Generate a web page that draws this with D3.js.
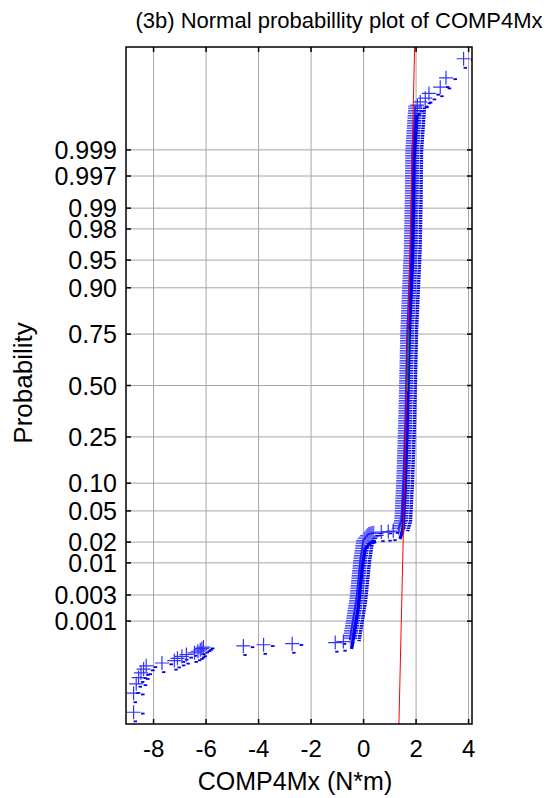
<!DOCTYPE html>
<html>
<head>
<meta charset="utf-8">
<script src="https://cdn.jsdelivr.net/npm/d3@7/dist/d3.min.js"></script>
<style>
  html, body { margin: 0; padding: 0; background: #fff; }
  svg text { font-family: "Liberation Sans", Arial, sans-serif; fill: #000; }
</style>
</head>
<body>
<svg id="chart" width="546" height="798"></svg>
<script>
// ---------------- data ----------------
const titleText = "(3b) Normal probabillity plot of COMP4Mx";
const xLabelText = "COMP4Mx (N*m)";
const yLabelText = "Probability";

const xTicks = [-8, -6, -4, -2, 0, 2, 4];
const probTicks = [0.001, 0.003, 0.01, 0.02, 0.05, 0.10, 0.25, 0.50, 0.75, 0.90, 0.95, 0.98, 0.99, 0.997, 0.999];
const probTickLabels = ["0.001", "0.003", "0.01", "0.02", "0.05", "0.10", "0.25", "0.50", "0.75", "0.90", "0.95", "0.98", "0.99", "0.997", "0.999"];

const nObs = 55000;                      // sample size (estimated from tail spacing)
// smallest order statistics (ranks 1..k), N*m
const lowTail = [-8.76, -8.76, -8.66, -8.57, -8.48, -8.38, -8.28, -7.68, -7.21, -7.09,
                 -6.92, -6.75, -6.44, -6.31, -6.22, -6.16, -6.10, -4.58, -3.81, -2.72, -1.08, -0.77];
// largest order statistics (ranks n-k+1..n), N*m
const highTail = [2.05, 2.16, 2.35, 2.49, 2.92, 3.14, 3.81];

// dense lower body: empirical quantiles (probability, value)
const lowBandProb = [0.00042, 0.00244, 0.0110, 0.02128, 0.02565, 0.02686];
const lowBandX    = [-0.526, -0.278, -0.126, -0.011, 0.179, 0.408];
// sparse jump between the two bodies (individual observations)
const linkProb = [0.02727, 0.02768, 0.0281];
const linkX    = [0.674, 0.941, 1.131];
// dense upper body: empirical quantiles (probability, value)
const upBandProb = [0.02898, 0.0388, 0.1075, 0.3253, 0.7667, 0.9623, 0.99253, 0.999, 0.99988];
const upBandX    = [1.322, 1.436, 1.512, 1.589, 1.665, 1.798, 1.836, 1.855, 1.97];

// reference line through the 1st and 3rd quartiles
const refProb = [0.25, 0.75];
const refX = [1.600, 1.691];

const xDomain = [-9.05, 4.13];
const zDomain = [-4.44, 4.44];

// ---------------- helpers ----------------
function probit(p) {
  // Acklam's inverse normal CDF
  const a = [-3.969683028665376e+01, 2.209460984245205e+02, -2.759285104469687e+02, 1.383577518672690e+02, -3.066479806614716e+01, 2.506628277459239e+00];
  const b = [-5.447609879822406e+01, 1.615858368580409e+02, -1.556989798598866e+02, 6.680131188771972e+01, -1.328068155288572e+01];
  const c = [-7.784894002430293e-03, -3.223964580411365e-01, -2.400758277161838e+00, -2.549732539343734e+00, 4.374664141464968e+00, 2.938163982698783e+00];
  const d = [7.784695709041462e-03, 3.224671290700398e-01, 2.445134137142996e+00, 3.754408661907416e+00];
  const pl = 0.02425, ph = 1 - pl;
  let q, r;
  if (p < pl) {
    q = Math.sqrt(-2 * Math.log(p));
    return (((((c[0]*q+c[1])*q+c[2])*q+c[3])*q+c[4])*q+c[5]) / ((((d[0]*q+d[1])*q+d[2])*q+d[3])*q+1);
  } else if (p <= ph) {
    q = p - 0.5; r = q*q;
    return (((((a[0]*r+a[1])*r+a[2])*r+a[3])*r+a[4])*r+a[5])*q / (((((b[0]*r+b[1])*r+b[2])*r+b[3])*r+b[4])*r+1);
  } else {
    q = Math.sqrt(-2 * Math.log(1 - p));
    return -(((((c[0]*q+c[1])*q+c[2])*q+c[3])*q+c[4])*q+c[5]) / ((((d[0]*q+d[1])*q+d[2])*q+d[3])*q+1);
  }
}

// ---------------- layout ----------------
const L = 126, R = 472, T = 47, B = 724;
const svg = d3.select("#chart");
const x = d3.scaleLinear().domain(xDomain).range([L, R]);
const z = d3.scaleLinear().domain(zDomain).range([B, T]);
const y = p => z(probit(p));

const defs = svg.append("defs");
defs.append("clipPath").attr("id", "plotClip")
  .append("rect").attr("x", L).attr("y", T).attr("width", R - L).attr("height", B - T);
function stripePattern(id, color, h) {
  const pat = defs.append("pattern").attr("id", id).attr("patternUnits", "userSpaceOnUse")
    .attr("width", 4).attr("height", 2.5);
  pat.append("rect").attr("x", 0).attr("y", 0).attr("width", 4).attr("height", h).attr("fill", color);
}
stripePattern("stripeLight", "#4646ff", 1.5);
stripePattern("stripeDark", "#0808ff", 1.5);
stripePattern("stripeDash", "#0000e6", 1.7);

// grid
const grid = svg.append("g");
grid.selectAll("line.gx").data(xTicks).join("line")
  .attr("x1", d => x(d)).attr("x2", d => x(d)).attr("y1", T).attr("y2", B)
  .attr("stroke", "#a6a6a6").attr("stroke-width", 1);
grid.selectAll("line.gy").data(probTicks).join("line")
  .attr("x1", L).attr("x2", R).attr("y1", d => y(d)).attr("y2", d => y(d))
  .attr("stroke", "#a6a6a6").attr("stroke-width", 1);

const plot = svg.append("g").attr("clip-path", "url(#plotClip)");

// ---------------- dense bodies (stacked '+' markers) ----------------
function drawBody(probs, vals) {
  const band = probs.map((p, i) => ({ p, v: vals[i] }));
  // horizontal arms (left half lighter, right half darker)
  plot.append("path").datum(band)
    .attr("d", d3.area().x0(d => x(d.v) - 7).x1(d => x(d.v)).y(d => y(d.p)))
    .attr("fill", "url(#stripeLight)");
  plot.append("path").datum(band)
    .attr("d", d3.area().x0(d => x(d.v)).x1(d => x(d.v) + 7).y(d => y(d.p)))
    .attr("fill", "url(#stripeDark)");
  // vertical arms
  plot.append("path").datum(band)
    .attr("d", d3.area().x(d => x(d.v)).y0(d => y(d.p) - 7).y1(d => y(d.p) + 7))
    .attr("fill", "#6c6cff");
  plot.append("path").datum(band)
    .attr("d", d3.line().x(d => x(d.v)).y(d => y(d.p)))
    .attr("fill", "none").attr("stroke", "#1f1fff").attr("stroke-width", 1.8);
  // marker shadow dashes (right and bottom)
  plot.append("path").datum(band)
    .attr("d", d3.line().x(d => x(d.v) + 9.2).y(d => y(d.p) + 1.2))
    .attr("fill", "none").attr("stroke", "url(#stripeDash)").attr("stroke-width", 3.5);
  plot.append("path").datum(band)
    .attr("d", d3.line().x(d => x(d.v) + 1.8).y(d => y(d.p) + 9))
    .attr("fill", "none").attr("stroke", "#0000f0").attr("stroke-width", 3.4);
}
drawBody(lowBandProb, lowBandX);
drawBody(upBandProb, upBandX);

// ---------------- sparse observations: individual '+' markers ----------------
const tailPts = lowTail.map((v, i) => ({ v, p: (i + 1 - 0.5) / nObs }))
  .concat(linkX.map((v, i) => ({ v, p: linkProb[i] })))
  .concat(highTail.map((v, i) => ({ v, p: (nObs - highTail.length + i + 1 - 0.5) / nObs })));
const mk = plot.selectAll("g.mk").data(tailPts).join("g")
  .attr("transform", d => `translate(${x(d.v)},${y(d.p)})`);
mk.append("path").attr("d", "M-7,0H7M0,-7V7")
  .attr("stroke", "#3333ff").attr("stroke-width", 1.2).attr("fill", "none");
mk.append("rect").attr("x", 7.4).attr("y", 0.4).attr("width", 3.6).attr("height", 1.8).attr("fill", "#0000e8");
mk.append("rect").attr("x", 0).attr("y", 8.2).attr("width", 3.4).attr("height", 1.8).attr("fill", "#0000e8");

// ---------------- reference line ----------------
const zq1 = probit(refProb[0]), zq3 = probit(refProb[1]);
const slope = (refX[1] - refX[0]) / (zq3 - zq1);
const refAt = zz => refX[0] + (zz - zq1) * slope;
plot.append("line")
  .attr("x1", x(refAt(zDomain[0]))).attr("y1", z(zDomain[0]))
  .attr("x2", x(refAt(zDomain[1]))).attr("y2", z(zDomain[1]))
  .attr("stroke", "#ff0000").attr("stroke-width", 1);
plot.append("line")
  .attr("x1", x(refAt(probit(0.47))) + 0.8).attr("y1", y(0.47))
  .attr("x2", x(refAt(probit(0.77))) + 0.8).attr("y2", y(0.77))
  .attr("stroke", "#00a000").attr("stroke-width", 1);

// ---------------- axes box & ticks ----------------
svg.append("rect").attr("x", L).attr("y", T).attr("width", R - L).attr("height", B - T)
  .attr("fill", "none").attr("stroke", "#000").attr("stroke-width", 1.5);
const tk = 5;
svg.selectAll("line.xtb").data(xTicks).join("line")
  .attr("x1", d => x(d)).attr("x2", d => x(d)).attr("y1", B).attr("y2", B - tk).attr("stroke", "#000").attr("stroke-width", 1.5);
svg.selectAll("line.xtt").data(xTicks).join("line")
  .attr("x1", d => x(d)).attr("x2", d => x(d)).attr("y1", T).attr("y2", T + tk).attr("stroke", "#000").attr("stroke-width", 1.5);
svg.selectAll("line.ytl").data(probTicks).join("line")
  .attr("x1", L).attr("x2", L + tk).attr("y1", d => y(d)).attr("y2", d => y(d)).attr("stroke", "#000").attr("stroke-width", 1.5);
svg.selectAll("line.ytr").data(probTicks).join("line")
  .attr("x1", R).attr("x2", R - tk).attr("y1", d => y(d)).attr("y2", d => y(d)).attr("stroke", "#000").attr("stroke-width", 1.5);

// tick labels
svg.selectAll("text.xl").data(xTicks).join("text")
  .attr("x", d => x(d)).attr("y", 757).attr("text-anchor", "middle")
  .attr("font-size", 24).text(d => d);
svg.selectAll("text.yl").data(probTicks).join("text")
  .attr("x", 117).attr("y", d => y(d)).attr("dy", "0.36em").attr("text-anchor", "end")
  .attr("font-size", 25).text((d, i) => probTickLabels[i]);

// titles
svg.append("text").attr("x", 339).attr("y", 28).attr("text-anchor", "middle")
  .attr("font-size", 22).text(titleText);
svg.append("text").attr("x", 295).attr("y", 790).attr("text-anchor", "middle")
  .attr("font-size", 25).text(xLabelText);
svg.append("text").attr("transform", "translate(32,383) rotate(-90)").attr("text-anchor", "middle")
  .attr("font-size", 26).text(yLabelText);
</script>
</body>
</html>
